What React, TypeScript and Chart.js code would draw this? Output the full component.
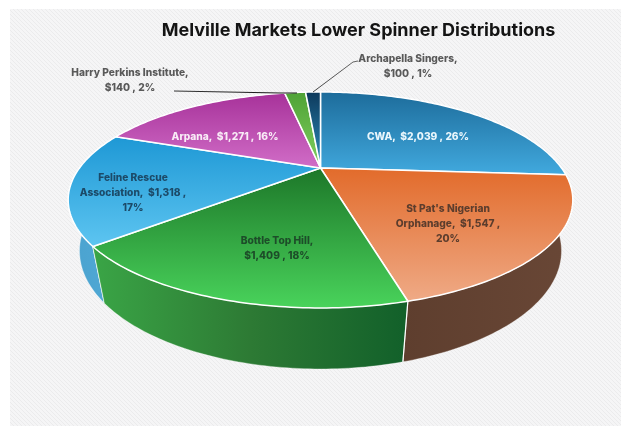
import React, { useEffect, useRef } from "react";
import { Chart, PieController, registerables } from "chart.js";

const chartTitle = "Melville Markets Lower Spinner Distributions";
const categories = ["CWA", "St Pat's Nigerian Orphanage", "Bottle Top Hill", "Feline Rescue Association", "Arpana", "Harry Perkins Institute", "Archapella Singers"];
const amounts = [2039, 1547, 1409, 1318, 1271, 140, 100];
const labelLines = [
  ["CWA,  $2,039 , 26%"],
  ["St Pat's Nigerian", "Orphanage,  $1,547 ,", "20%"],
  ["Bottle Top Hill,", "$1,409 , 18%"],
  ["Feline Rescue", "Association,  $1,318 ,", "17%"],
  ["Arpana,  $1,271 , 16%"],
  ["Harry Perkins Institute,", "$140 , 2%"],
  ["Archapella Singers,", "$100 , 1%"],
];

const labelAnchors = [
  { x: 418, y: 137, color: "#e9f6fc" },
  { x: 448, y: 209, color: "#5c3d2d" },
  { x: 277, y: 241, color: "#1d4d29" },
  { x: 133, y: 178, color: "#1c4a68" },
  { x: 225, y: 137, color: "#f8ebf6" },
  { x: 130, y: 73, color: "#595959" },
  { x: 408, y: 59, color: "#595959" },
];
const leaderPaths = [
  { pts: [[174, 91], [280, 93], [297, 93]], from: "#333333", to: "#111111" },
  { pts: [[358, 61], [353, 62], [313, 92]], from: "#666666", to: "#444444" },
];

const faceColors = [
  ["#1d6c9b", "#41a9de"],
  ["#e26b2b", "#efaa86"],
  ["#1d7729", "#49d35b"],
  ["#1e98d5", "#5dc5f1"],
  ["#a7329a", "#d16dc7"],
  ["#4fa236", "#80d060"],
  ["#0e3a5c", "#2e8fc0"],
];
const wallColors = [
  ["#2a7aa8", "#2a7aa8"],
  ["#5e3e2e", "#694736"],
  ["#3aa546", "#2d7a34", "#12602a"],
  ["#4aa2cf", "#52aad6"],
  ["#a7329a", "#a7329a"],
  ["#4fa236", "#4fa236"],
  ["#0e3a5c", "#0e3a5c"],
];

const CAM = { cx: 320.5, cy: 168, R: 241, S: 98.5, p: 0.296, D: 51.6, q: 0.043 };

function project(a: number, z: number) {
  const X = Math.cos(a);
  const Y = Math.sin(a);
  const w = 1 - CAM.p * Y + CAM.q * z;
  return { x: CAM.cx + (CAM.R * X) / w, y: CAM.cy + (CAM.S * Y + CAM.D * z) / w };
}

function arcPoints(start: number, end: number, z: number) {
  const n = Math.max(4, Math.ceil(((end - start) * 180) / Math.PI));
  const pts = [];
  for (let i = 0; i <= n; i++) pts.push(project(start + ((end - start) * i) / n, z));
  return pts;
}

class Pie3DController extends PieController {
  static id = "pie3d";
  draw() {
    const ctx = this.chart.ctx;
    const arcs = this.getMeta().data as any[];
    const order = arcs
      .map((arc, i) => ({ arc, i, mid: Math.sin((arc.startAngle + arc.endAngle) / 2) }))
      .sort((u, v) => u.mid - v.mid);
    ctx.save();
    ctx.lineJoin = "round";
    for (const { arc, i } of order) {
      const top = arcPoints(arc.startAngle, arc.endAngle, 0);
      const bottom = arcPoints(arc.startAngle, arc.endAngle, 1);
      const xs = top.concat(bottom).map((p) => p.x);
      const g = ctx.createLinearGradient(Math.min(...xs), 0, Math.max(...xs), 0);
      wallColors[i].forEach((c, k, all) => g.addColorStop(k / (all.length - 1), c));
      ctx.beginPath();
      top.forEach((p, k) => (k ? ctx.lineTo(p.x, p.y) : ctx.moveTo(p.x, p.y)));
      bottom.reverse().forEach((p) => ctx.lineTo(p.x, p.y));
      ctx.closePath();
      ctx.fillStyle = g;
      ctx.fill();
      ctx.strokeStyle = "rgba(255,255,255,0.45)";
      ctx.lineWidth = 0.7;
      ctx.stroke();
      const a = project(arc.startAngle, 0);
      const b = project(arc.startAngle, 1);
      if (Math.sin(arc.startAngle) > 0.25) {
        ctx.beginPath();
        ctx.moveTo(a.x, a.y);
        ctx.lineTo(b.x, b.y);
        ctx.strokeStyle = "#ffffff";
        ctx.lineWidth = 1.2;
        ctx.stroke();
      }
    }
    arcs.forEach((arc, i) => {
      const rim = arcPoints(arc.startAngle, arc.endAngle, 0);
      const ys = rim.map((p) => p.y).concat(CAM.cy);
      const g = ctx.createLinearGradient(0, Math.min(...ys), 0, Math.max(...ys));
      g.addColorStop(0, faceColors[i][0]);
      g.addColorStop(1, faceColors[i][1]);
      ctx.beginPath();
      ctx.moveTo(CAM.cx, CAM.cy);
      rim.forEach((p) => ctx.lineTo(p.x, p.y));
      ctx.closePath();
      ctx.fillStyle = g;
      ctx.fill();
      ctx.strokeStyle = "#ffffff";
      ctx.lineWidth = 1.5;
      ctx.stroke();
    });
    ctx.restore();
  }
}

const backdrop = {
  id: "backdrop",
  beforeDraw(chart: any) {
    const { ctx, width, height } = chart;
    ctx.save();
    ctx.fillStyle = "#ffffff";
    ctx.fillRect(0, 0, width, height);
    const tile = document.createElement("canvas");
    tile.width = 4;
    tile.height = 4;
    const t = tile.getContext("2d")!;
    t.fillStyle = "#f5f5f6";
    t.fillRect(0, 0, 4, 4);
    t.fillStyle = "#ebebec";
    for (let i = 0; i < 4; i++) t.fillRect(i, i, 1, 1);
    ctx.fillStyle = ctx.createPattern(tile, "repeat");
    ctx.fillRect(10, 9, width - 10, height - 9);
    ctx.restore();
  },
};

const dataLabels = {
  id: "dataLabels",
  afterDatasetsDraw(chart: any) {
    const ctx = chart.ctx;
    ctx.save();
    for (const l of leaderPaths) {
      const [first] = l.pts;
      const last = l.pts[l.pts.length - 1];
      const g = ctx.createLinearGradient(first[0], first[1], last[0], last[1]);
      g.addColorStop(0, l.from);
      g.addColorStop(1, l.to);
      ctx.beginPath();
      l.pts.forEach(([x, y], k) => (k ? ctx.lineTo(x, y) : ctx.moveTo(x, y)));
      ctx.strokeStyle = g;
      ctx.lineWidth = 1;
      ctx.stroke();
    }
    ctx.font = "800 10.2px Inter";
    ctx.textAlign = "center";
    ctx.textBaseline = "middle";
    labelLines.forEach((lines, i) => {
      ctx.fillStyle = labelAnchors[i].color;
      lines.forEach((line, k) => ctx.fillText(line, labelAnchors[i].x, labelAnchors[i].y + k * 15.2));
    });
    ctx.restore();
  },
};

Chart.register(...registerables, Pie3DController);

export default function App() {
  const ref = useRef<HTMLCanvasElement>(null);
  useEffect(() => {
    const chart = new Chart(ref.current!, {
      type: "pie3d" as any,
      data: {
        labels: categories,
        datasets: [{ data: amounts, clip: false } as any],
      },
      options: {
        animation: false,
        responsive: false,
        devicePixelRatio: 1,
        layout: { padding: { left: 96 } },
        plugins: {
          legend: { display: false },
          tooltip: { enabled: false },
          title: {
            display: true,
            text: chartTitle,
            color: "#141414",
            font: { family: "Inter", size: 18, weight: "bold" },
            padding: { top: 20, bottom: 10 },
          },
        },
      },
      plugins: [backdrop, dataLabels],
    } as any);
    return () => chart.destroy();
  }, []);
  return (
    <div style={{ position: "absolute", left: 0, top: 0, width: 621, height: 426 }}>
      <canvas ref={ref} width={621} height={426} style={{ display: "block" }} />
    </div>
  );
}
